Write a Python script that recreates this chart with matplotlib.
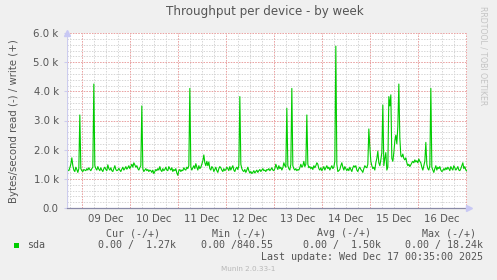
import numpy as np
import pandas as pd
import matplotlib
matplotlib.use('Agg')
import matplotlib.pyplot as plt

# write throughput (k bytes/s), one value every 30 min, Dec 8 16:35 -> Dec 17 00:35
write_k = [
    1.30, 1.28, 1.38, 1.50, 1.72, 1.45, 1.30, 1.25, 1.40, 1.32, 1.22, 1.35, 3.19, 1.35, 1.28, 1.25, 1.32, 1.30, 1.28, 1.35,
    1.30, 1.38, 1.32, 1.28, 1.35, 1.40, 4.25, 1.45, 1.35, 1.30, 1.42, 1.33, 1.28, 1.38, 1.30, 1.25, 1.35, 1.40, 1.32, 1.28,
    1.48, 1.35, 1.30, 1.38, 1.28, 1.25, 1.35, 1.45, 1.32, 1.28, 1.30, 1.36, 1.30, 1.25, 1.33, 1.40, 1.30, 1.35, 1.42, 1.33,
    1.38, 1.45, 1.35, 1.42, 1.50, 1.40, 1.55, 1.48, 1.40, 1.45, 1.35, 1.30, 1.38, 1.45, 3.50, 1.35, 1.25, 1.30, 1.35, 1.28,
    1.32, 1.25, 1.30, 1.28, 1.22, 1.30, 1.18, 1.25, 1.32, 1.28, 1.35, 1.30, 1.42, 1.30, 1.25, 1.35, 1.28, 1.32, 1.40, 1.30,
    1.28, 1.42, 1.35, 1.30, 1.38, 1.25, 1.32, 1.28, 1.35, 1.20, 1.12, 1.28, 1.32, 1.25, 1.30, 1.28, 1.38, 1.32, 1.30, 1.40,
    1.35, 1.45, 4.10, 1.40, 1.30, 1.38, 1.45, 1.35, 1.52, 1.40, 1.30, 1.45, 1.35, 1.40, 1.50, 1.62, 1.82, 1.55, 1.45, 1.60,
    1.45, 1.58, 1.35, 1.30, 1.42, 1.38, 1.25, 1.32, 1.40, 1.28, 1.22, 1.35, 1.42, 1.38, 1.30, 1.25, 1.35, 1.28, 1.32, 1.40,
    1.35, 1.28, 1.42, 1.30, 1.38, 1.45, 1.30, 1.25, 1.35, 1.40, 1.32, 1.45, 3.82, 1.50, 1.35, 1.28, 1.25, 1.32, 1.22, 1.30,
    1.40, 1.28, 1.20, 1.25, 1.18, 1.22, 1.28, 1.20, 1.25, 1.30, 1.22, 1.28, 1.32, 1.25, 1.30, 1.35, 1.28, 1.30, 1.25, 1.32,
    1.30, 1.35, 1.28, 1.32, 1.38, 1.30, 1.28, 1.35, 1.50, 1.40, 1.32, 1.45, 1.35, 1.40, 1.30, 1.38, 1.55, 1.45, 1.40, 3.42,
    1.45, 1.35, 1.30, 1.50, 4.10, 1.45, 1.35, 1.30, 1.35, 1.28, 1.32, 1.30, 1.38, 1.50, 1.40, 1.45, 1.60, 1.42, 1.50, 3.19,
    1.50, 1.38, 1.42, 1.35, 1.40, 1.32, 1.45, 1.38, 1.45, 1.55, 1.50, 1.35, 1.30, 1.38, 1.28, 1.35, 1.42, 1.30, 1.38, 1.45,
    1.35, 1.40, 1.30, 1.38, 1.45, 1.35, 1.40, 1.60, 5.55, 1.50, 1.25, 1.28, 1.32, 1.45, 1.55, 1.40, 1.30, 1.42, 1.35, 1.28,
    1.35, 1.28, 1.40, 1.32, 1.25, 1.38, 1.45, 1.40, 1.45, 1.30, 1.25, 1.35, 1.40, 1.32, 1.28, 1.22, 1.35, 1.45, 1.40, 1.38,
    1.50, 2.71, 2.10, 1.60, 1.45, 1.35, 1.40, 1.30, 1.55, 1.70, 1.95, 1.55, 1.45, 1.65, 1.90, 3.53, 1.45, 1.70, 1.90, 1.30,
    1.40, 3.82, 3.50, 3.88, 1.70, 1.60, 1.90, 2.30, 2.50, 2.20, 2.80, 4.25, 2.40, 1.80, 1.75, 1.85, 1.70, 1.65, 1.72, 1.55,
    1.45, 1.50, 1.42, 1.48, 1.55, 1.60, 1.55, 1.65, 1.58, 1.62, 1.55, 1.68, 1.60, 1.55, 1.40, 1.30, 1.45, 1.60, 2.25, 1.50,
    1.35, 1.30, 1.45, 4.10, 1.40, 1.30, 1.22, 1.35, 1.45, 1.30, 1.40, 1.35, 1.42, 1.30, 1.25, 1.28, 1.35, 1.30, 1.38, 1.32,
    1.40, 1.35, 1.28, 1.42, 1.35, 1.30, 1.45, 1.38, 1.30, 1.35, 1.42, 1.30, 1.28, 1.35, 1.45, 1.55, 1.35, 1.42, 1.30, 1.27,
]
day_labels = ['09 Dec', '10 Dec', '11 Dec', '12 Dec', '13 Dec', '14 Dec', '15 Dec', '16 Dec']
y_labels = ['0.0', '1.0 k', '2.0 k', '3.0 k', '4.0 k', '5.0 k', '6.0 k']
col_heads = ['Cur (-/+)', 'Min (-/+)', 'Avg (-/+)', 'Max (-/+)']
col_vals = ['0.00 /  1.27k', '0.00 /840.55', '0.00 /  1.50k', '0.00 / 18.24k']

# hours relative to 09 Dec 00:00
times = pd.date_range(end='2025-12-17 00:30', periods=len(write_k), freq='30min')
t0 = pd.Timestamp('2025-12-09 00:00')
hours = (times - t0) / pd.Timedelta(hours=1)
x_end = (pd.Timestamp('2025-12-17 00:35') - t0) / pd.Timedelta(hours=1)
x_start = x_end - 200

txt = '#555555'
fig = plt.figure(figsize=(4.97, 2.80), dpi=100, facecolor='#f0f0f0')
ax = fig.add_axes([67/497, 72/280, 400/497, 175/280])
ax.set_facecolor('white')

ax.set_xlim(x_start, x_end)
ax.set_ylim(0, 6000)

# grid: grey every 6h / 200, red every day / 1000
days = np.arange(0, 9) * 24
six = np.arange(-6, 193, 6)
for h in six:
    ax.axvline(h, color='#d4d4d4', lw=0.7, ls=(0, (1.4, 1.4)), zorder=1)
for v in range(200, 6001, 200):
    ax.axhline(v, color='#d4d4d4', lw=0.7, ls=(0, (1.4, 1.4)), zorder=1)
for h in days:
    ax.axvline(h, color='#f0a0a0', lw=0.7, ls=(0, (1.4, 1.4)), zorder=2)
for v in range(1000, 6001, 1000):
    ax.axhline(v, color='#f0a0a0', lw=0.7, ls=(0, (1.4, 1.4)), zorder=2)

ax.plot(hours, np.array(write_k) * 1000, color='#00cc00', lw=0.8, zorder=4)

for s in ax.spines.values():
    s.set_visible(False)
ax.axhline(0, color='#8a8aa8', lw=0.9, zorder=5, clip_on=False)
ax.axvline(x_start, color='#ccccee', lw=0.9, zorder=5)
ax.plot([x_start], [6000], marker='^', ms=4, color='#c8c8f4', clip_on=False, zorder=6)
ax.plot([x_end + 1], [0], marker='>', ms=4, color='#c8c8f4', clip_on=False, zorder=6)

ax.set_xticks(days[:-1] + 12)
ax.set_xticklabels(day_labels, fontsize=7.3, color=txt)
ax.tick_params(axis='x', length=0, pad=4)
ax.set_yticks(np.arange(0, 6001, 1000))
ax.set_yticklabels(y_labels, fontsize=7.3, color=txt)
ax.tick_params(axis='y', length=2, color='#ccccee', pad=4)

fig.text(265/497, 1 - 12/280, 'Throughput per device - by week', ha='center', va='center',
         fontsize=8.6, color=txt)
fig.text(14/497, 1 - 121/280, 'Bytes/second read (-) / write (+)', rotation=90,
         ha='center', va='center', fontsize=7.3, color=txt)
fig.text(483/497, 1 - 56/280, 'RRDTOOL / TOBI OETIKER', rotation=270, ha='center', va='center',
         fontsize=5.6, color='#c4c4c4')

# legend block
mono = 'DejaVu Sans Mono'
head_x = [160, 266, 371, 476]
val_x = [176, 273, 381, 483]
for x, s in zip(head_x, col_heads):
    fig.text(x/497, 1 - 233/280, s, ha='right', va='center', family=mono, fontsize=7.2, color=txt)
for x, s in zip(val_x, col_vals):
    fig.text(x/497, 1 - 245/280, s, ha='right', va='center', family=mono, fontsize=7.2, color=txt)
fig.patches.append(plt.Rectangle((14/497, 1 - 248/280), 5/497, 5/280, transform=fig.transFigure,
                                 facecolor='#00cc00', edgecolor='none'))
fig.text(27/497, 1 - 245/280, 'sda', ha='left', va='center', family=mono, fontsize=7.2, color=txt)
fig.text(483/497, 1 - 257/280, 'Last update: Wed Dec 17 00:35:00 2025', ha='right', va='center',
         family=mono, fontsize=7.2, color=txt)
fig.text(248/497, 1 - 269/280, 'Munin 2.0.33-1', ha='center', va='center', fontsize=5.2, color='#b8b8b8')

fig.savefig('out.png', dpi=100, facecolor=fig.get_facecolor())
